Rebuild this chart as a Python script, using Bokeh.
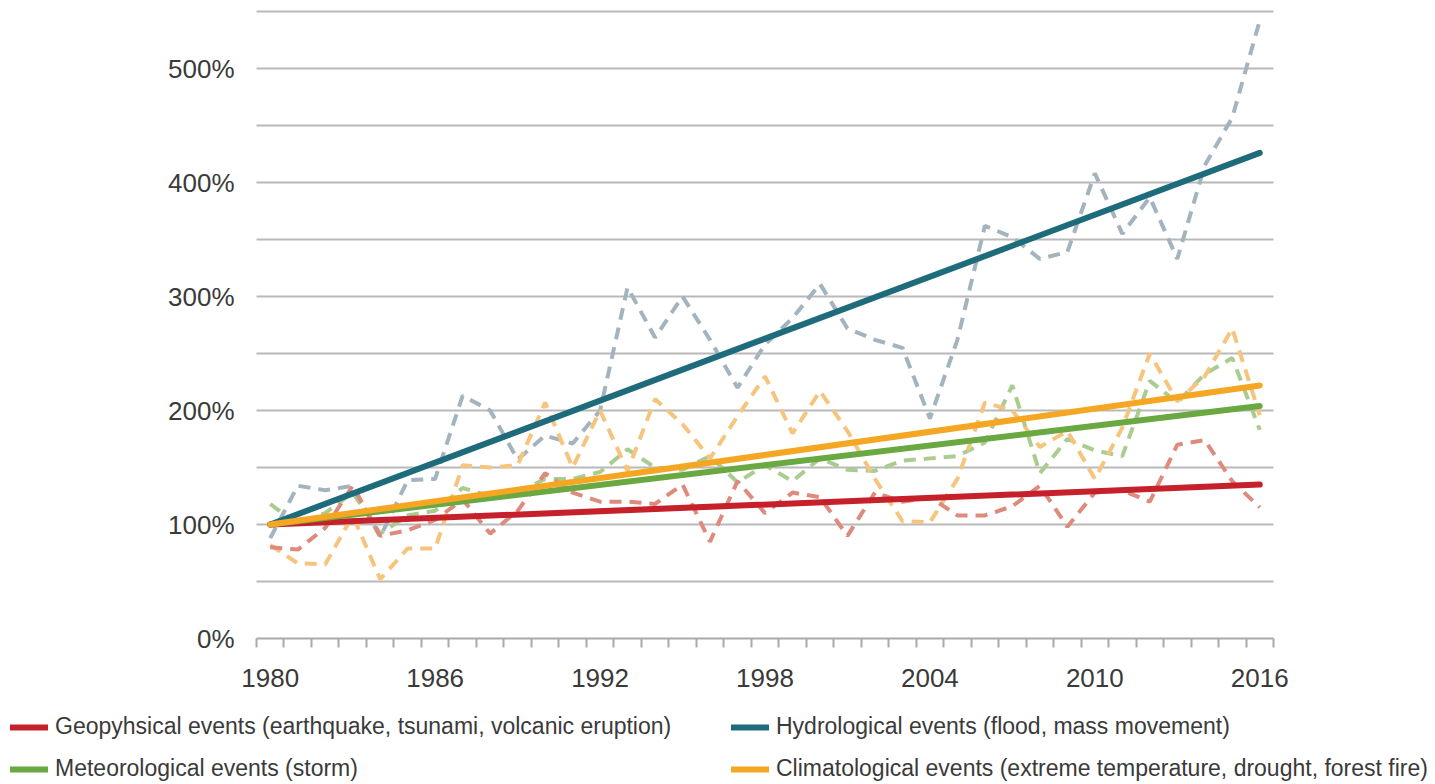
from bokeh.plotting import figure
from bokeh.models import Range1d, FixedTicker, Legend, LegendItem, LinearAxis, Grid
from bokeh.embed import file_html
from bokeh.resources import INLINE

years = list(range(1980, 2017))

geo = [80, 78, 97, 134, 90, 95, 104, 122, 92, 112, 145, 128, 120, 120, 118, 135, 85, 138, 110, 128,
       124, 90, 128, 120, 124, 108, 108, 116, 134, 98, 128, 130, 120, 170, 174, 138, 115]
hydro = [88, 134, 130, 134, 89, 139, 140, 213, 200, 157, 178, 171, 200, 308, 264, 300, 262, 220, 258, 281,
         311, 272, 262, 255, 193, 262, 362, 352, 333, 339, 408, 355, 387, 333, 415, 457, 542]
met = [118, 100, 110, 128, 92, 108, 112, 132, 125, 128, 140, 140, 146, 166, 150, 148, 160, 137, 152, 138,
       158, 148, 147, 156, 158, 160, 172, 222, 145, 175, 165, 160, 226, 207, 232, 246, 183]
clim = [82, 66, 65, 108, 52, 79, 79, 152, 150, 152, 207, 150, 200, 147, 210, 188, 158, 195, 230, 180,
        217, 182, 140, 103, 102, 140, 207, 200, 168, 182, 140, 185, 250, 208, 230, 272, 196]

trend_years = [1980, 2016]
geo_trend = [100, 135]
hydro_trend = [100, 426]
met_trend = [100, 204]
clim_trend = [100, 222]

labels = [
    "Geopyhsical events (earthquake, tsunami, volcanic eruption)",
    "Hydrological events (flood, mass movement)",
    "Meteorological events (storm)",
    "Climatological events (extreme temperature, drought, forest fire)",
]

x_tick_years = [1980, 1986, 1992, 1998, 2004, 2010, 2016]
x_minor = [y - 0.5 for y in range(1980, 2018)]
y_ticks = [0, 100, 200, 300, 400, 500]
y_tick_labels = ["0%", "100%", "200%", "300%", "400%", "500%"]
grid_levels = [50, 100, 150, 200, 250, 300, 350, 400, 450, 500, 550]

X_START, X_END = 1979.5, 2016.5   # extent of the plotted period (axis bounds)

FONT = "Liberation Sans"
TXT = "#3a3a3a"

# whole canvas is the frame; axes are pinned at data positions so the legend can sit inside
p = figure(width=1435, height=784,
           x_range=Range1d(1970.186, 2022.394), y_range=Range1d(-128.07, 559.65),
           x_axis_location=None, y_axis_location=None,
           output_backend="svg", toolbar_location=None,
           min_border_left=0, min_border_right=0, min_border_top=0, min_border_bottom=0)
p.outline_line_color = None
p.background_fill_color = "white"
p.border_fill_color = "white"
for r in list(p.center):
    if isinstance(r, Grid):
        r.visible = False

# horizontal grid lines across the plotted period
p.segment(x0=[X_START] * len(grid_levels), x1=[X_END] * len(grid_levels),
          y0=grid_levels, y1=grid_levels, line_color="#b9b9b9", line_width=2, level="underlay")

xa = LinearAxis(fixed_location=0, bounds=(X_START, X_END))
xa.ticker = FixedTicker(ticks=x_tick_years, minor_ticks=x_minor)
xa.axis_line_color = "#aaaaaa"
xa.axis_line_width = 2
xa.major_tick_line_color = None
xa.major_tick_out = 9
xa.major_tick_in = 0
xa.minor_tick_line_color = "#aaaaaa"
xa.minor_tick_line_width = 2
xa.minor_tick_out = 9
xa.minor_tick_in = 0
xa.major_label_standoff = 21
xa.major_label_text_font = FONT
xa.major_label_text_font_size = "26px"
xa.major_label_text_color = TXT
p.add_layout(xa, "below")

ya = LinearAxis(fixed_location=X_START)
ya.ticker = FixedTicker(ticks=y_ticks)
ya.major_label_overrides = {t: l for t, l in zip(y_ticks, y_tick_labels)}
ya.axis_line_color = None
ya.major_tick_line_color = None
ya.minor_tick_line_color = None
ya.major_tick_out = 0
ya.major_tick_in = 0
ya.major_label_standoff = 22
ya.major_label_text_font = FONT
ya.major_label_text_font_size = "26px"
ya.major_label_text_color = TXT
p.add_layout(ya, "left")

dash = "12 8"
p.line(years, hydro, line_color="#a3b4be", line_width=4, line_dash=dash)
p.line(years, met, line_color="#abcc8f", line_width=4, line_dash=dash)
p.line(years, clim, line_color="#f7c47e", line_width=4, line_dash=dash)
p.line(years, geo, line_color="#de8a7c", line_width=4, line_dash=dash)

r_geo = p.line(trend_years, geo_trend, line_color="#c6202b", line_width=6, line_cap="round")
r_met = p.line(trend_years, met_trend, line_color="#6aa841", line_width=6, line_cap="round")
r_hyd = p.line(trend_years, hydro_trend, line_color="#1e6b7c", line_width=6, line_cap="round")
r_cli = p.line(trend_years, clim_trend, line_color="#f5a623", line_width=6, line_cap="round")


def make_legend(items, loc):
    lg = Legend(items=items, location=loc)
    lg.padding = 0
    lg.margin = 0
    lg.border_line_color = None
    lg.background_fill_alpha = 0
    lg.glyph_width = 38
    lg.glyph_height = 20
    lg.label_standoff = 7
    lg.label_height = 31
    lg.spacing = 11
    lg.label_text_font = FONT
    lg.label_text_font_size = "23px"
    lg.label_text_color = TXT
    return lg


p.add_layout(make_legend([LegendItem(label=labels[0], renderers=[r_geo]),
                          LegendItem(label=labels[2], renderers=[r_met])], (10, 0)))
p.add_layout(make_legend([LegendItem(label=labels[1], renderers=[r_hyd]),
                          LegendItem(label=labels[3], renderers=[r_cli])], (731, 0)))

open("out.html", "w").write(file_html(p, INLINE))
